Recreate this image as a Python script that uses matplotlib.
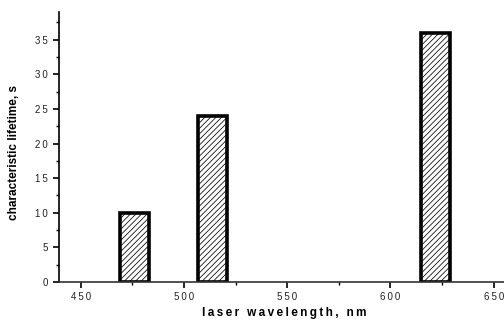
import matplotlib
matplotlib.use("Agg")
import matplotlib.pyplot as plt
from matplotlib.ticker import MultipleLocator, FuncFormatter

plt.rcParams['font.family'] = ['Liberation Sans', 'DejaVu Sans']
plt.rcParams['hatch.linewidth'] = 0.55
plt.rcParams['hatch.color'] = '#666666'

wavelengths = [476, 514, 622]
lifetimes = [10, 24, 36]
bar_width = 14

def spaced(s, sep='\u2009'):
    return sep.join(s)

fig = plt.figure(figsize=(5.04, 3.22), dpi=100)
ax_w, ax_h = 445, 270
ax = fig.add_axes([59/504, 40/322, ax_w/504, ax_h/322])

ax.bar(wavelengths, lifetimes, width=bar_width, color='white',
       edgecolor='black', linewidth=2.6, hatch='//////')

ax.set_xlim(439.5, 655)
ax.set_ylim(0, 39)

for s in ('top', 'right'):
    ax.spines[s].set_visible(False)
ax.spines['left'].set_linewidth(1.2)
ax.spines['bottom'].set_linewidth(1.2)
ax.spines['bottom'].set_color('#333333')

ax.xaxis.set_major_locator(MultipleLocator(50))
ax.xaxis.set_minor_locator(MultipleLocator(25))
ax.yaxis.set_major_locator(MultipleLocator(5))
ax.yaxis.set_minor_locator(MultipleLocator(2.5))

fmt = FuncFormatter(lambda v, p: spaced(f"{v:g}"))
ax.xaxis.set_major_formatter(fmt)
ax.yaxis.set_major_formatter(fmt)

ax.tick_params(axis='both', which='major', direction='out', length=4, width=1.2,
               labelsize=7, colors='black', labelcolor='#222222')
ax.tick_params(axis='both', which='minor', direction='out', length=2.5, width=1.0)
ax.tick_params(axis='x', pad=3)
ax.tick_params(axis='y', pad=4)

ax.set_xlabel(spaced("laser wavelength, nm"), fontsize=8.5, fontweight='bold',
              ha='center', va='center')
ax.xaxis.set_label_coords((284 - 59) / ax_w, -(313 - 282) / ax_h)
ax.set_ylabel("characteristic lifetime, s", fontsize=8.5, fontweight='bold',
              ha='center', va='center')
ax.yaxis.set_label_coords(-(59 - 14) / ax_w, (282 - 152) / ax_h)

fig.savefig("out.png", dpi=100)
